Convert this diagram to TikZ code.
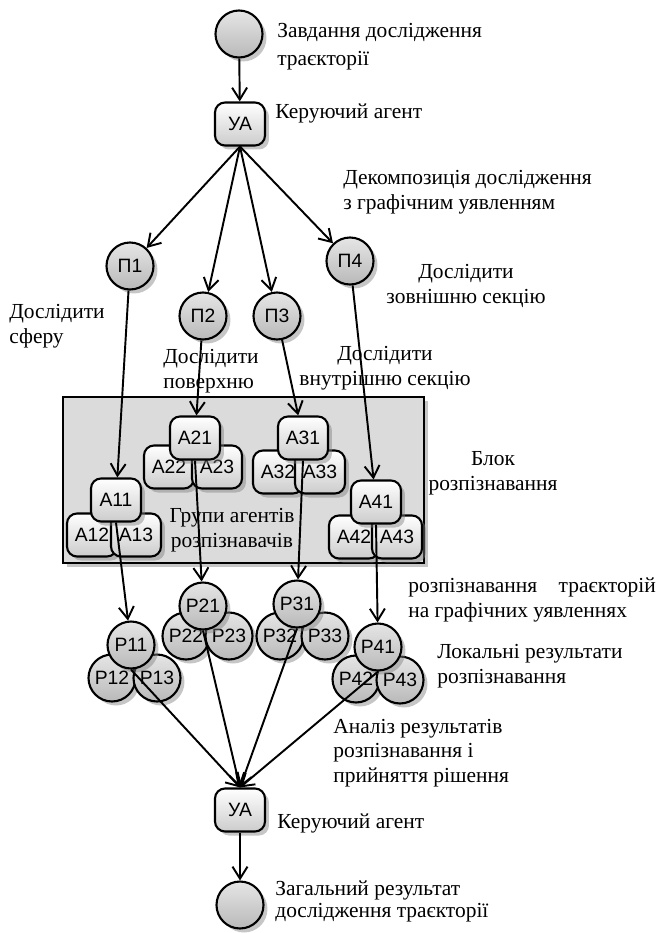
\documentclass[tikz,border=0pt]{standalone}
\usepackage{fontspec}
\setmainfont{Liberation Serif}
\setsansfont{Liberation Sans}
\usetikzlibrary{arrows.meta,shadows}

\begin{document}
\begin{tikzpicture}[x=0.02cm, y=-0.02cm,
  >={Straight Barb[length=2.4mm,width=3mm]},
  shade/.style = {drop shadow={shadow xshift=0.08cm, shadow yshift=-0.08cm, opacity=0.45}},
  agent/.style = {draw, line width=1.2pt, rounded corners=0.2cm, minimum width=1cm, minimum height=0.86cm, inner sep=0pt, top color=white, bottom color=gray!40, shade, font=\sffamily\fontsize{11}{13}\selectfont},
  res/.style = {draw, circle, line width=1.2pt, minimum size=0.94cm, inner sep=0pt, top color=gray!20, bottom color=gray!55, shade, font=\sffamily\fontsize{11}{13}\selectfont},
  frame/.style = {draw, line width=1pt, fill=gray!28, minimum width=7.22cm, minimum height=3.32cm, shade},
  note/.style = {inner sep=0pt, font=\fontsize{12.2}{14}\selectfont},
  link/.style = {->, line width=1.1pt}]
	\useasboundingbox (0,0) rectangle (658,933);
	\node[res] (start) at (239,34) {};
	\node[agent] (ua1) at (240,124) {УА};
	\node[res] (p1) at (130,266) {П1};
	\node[res] (p2) at (203,316) {П2};
	\node[res] (p3) at (277,316) {П3};
	\node[res] (p4) at (350,261) {П4};
	\node[frame] (blok) at (243.5,480) {};
	% agent groups
	\node[agent] (a22) at (169,467) {А22};
	\node[agent] (a23) at (217,467) {А23};
	\node[agent] (a21) at (195,438) {А21};
	\node[agent] (a32) at (278,472) {А32};
	\node[agent] (a33) at (320,472) {А33};
	\node[agent] (a31) at (303,438) {А31};
	\node[agent] (a12) at (92,535) {А12};
	\node[agent] (a13) at (136,535) {А13};
	\node[agent] (a11) at (116,500) {А11};
	\node[agent] (a42) at (354,537) {А42};
	\node[agent] (a43) at (397,537) {А43};
	\node[agent] (a41) at (376,502) {А41};
	% result groups
	\node[res] (r22) at (186,636) {Р22};
	\node[res] (r23) at (229,636) {Р23};
	\node[res] (r21) at (203,606) {Р21};
	\node[res] (r32) at (280,636) {Р32};
	\node[res] (r33) at (325,636) {Р33};
	\node[res] (r31) at (297,604) {Р31};
	\node[res] (r12) at (112,678) {Р12};
	\node[res] (r13) at (157,678) {Р13};
	\node[res] (r11) at (131,645) {Р11};
	\node[res] (r42) at (356,679) {Р42};
	\node[res] (r43) at (400,680) {Р43};
	\node[res] (r41) at (378,647) {Р41};
	\node[agent] (ua2) at (240,810) {УА};
	\node[res] (end) at (240,905) {};
	% labels
	\node[note, anchor=west, align=left] (lstart) at (277,47) {Завдання дослідження\\[2pt]траєкторії};
	\node[note, anchor=west] (lua1) at (275,113) {Керуючий агент};
	\node[note, anchor=west, align=left] (ldec) at (343,192) {Декомпозиція дослідження\\з графічним уявленням};
	\node[note, align=center] (lp4) at (466,286) {Дослідити\\зовнішню секцію};
	\node[note, anchor=west, align=left] (lp1) at (9,326) {Дослідити\\сферу};
	\node[note, anchor=west, align=left] (lp2) at (163,371) {Дослідити\\поверхню};
	\node[note, align=center] (lp3) at (385,368) {Дослідити\\внутрішню секцію};
	\node[note, align=center] (lblok) at (493,473) {Блок\\розпізнавання};
	\node[note, align=center] (lgroup) at (232,530) {Групи агентів\\розпізнавачів};
	\node[note, anchor=west, align=left] (lrec) at (408,600) {розпізнавання\hspace{1em}траєкторій\\на графічних уявленнях};
	\node[note, anchor=west, align=left] (lloc) at (437,666) {Локальні результати\\розпізнавання};
	\node[note, anchor=west, align=left] (lana) at (333,753) {Аналіз результатів\\розпізнавання і\\прийняття рішення};
	\node[note, anchor=west] (lua2) at (277,823) {Керуючий агент};
	\node[note, anchor=west, align=left] (lend) at (275,901) {Загальний результат\\[-1.5pt]дослідження траєкторії};
	% connectors
	\draw[link] (start) -- (ua1);
	\draw[link] (ua1.south) -- (p1);
	\draw[link] (ua1.south) -- (p2);
	\draw[link] (ua1.south) -- (p3);
	\draw[link] (ua1.south) -- (p4);
	\draw[link] (p1) -- (a11);
	\draw[link] (p2) -- (a21);
	\draw[link] (p3) -- (a31);
	\draw[link] (p4) -- (a41);
	\draw[link] (a11.south) -- (r11);
	\draw[link] (a21.south) -- (r21);
	\draw[link] (a31.south) -- (r31);
	\draw[link] (a41.south) -- (r41);
	\draw[link] (r11.south) -- (ua2.north);
	\draw[link] (r21.south) -- (ua2.north);
	\draw[link] (r31.south) -- (ua2.north);
	\draw[link] (r41.south) -- (ua2.north);
	\draw[link] (ua2) -- (end);
\end{tikzpicture}
\end{document}
